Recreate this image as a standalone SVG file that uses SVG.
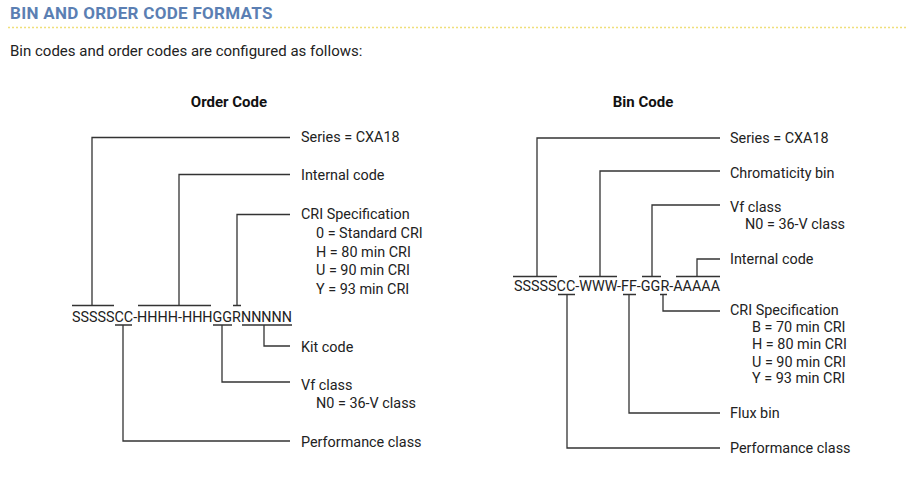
<svg xmlns="http://www.w3.org/2000/svg" width="909" height="481" viewBox="0 0 909 481">
<style>
text{font-family:Roboto,"Liberation Sans",Arial,sans-serif;fill:#222}
.t{font-size:17px;font-weight:bold;fill:#5b7fb3;letter-spacing:0.3px}
.s{font-size:15px}
.h{font-size:15px;font-weight:bold;text-anchor:middle;fill:#111}
.c{font-size:15px}
.l{font-size:14.4px}
.ln{fill:none;stroke:#333;stroke-width:1.3}
</style>
<rect width="909" height="481" fill="#fff"/>
<g id="header">
<text class="t" x="10" y="19">BIN AND ORDER CODE FORMATS</text>
<line x1="8" y1="27.5" x2="906" y2="27.5" stroke="#f0df7a" stroke-width="1.5" stroke-dasharray="2,2"/>
<text class="s" x="10" y="56">Bin codes and order codes are configured as follows:</text>
</g>
<g id="order-code">
<text class="h" x="229" y="107">Order Code</text>
<text class="c" x="72" y="322" textLength="220" lengthAdjust="spacingAndGlyphs">SSSSSCC-HHHH-HHHGGRNNNNN</text>
</g>
<g id="order-labels">
<text class="l" x="301" y="142">Series = CXA18</text>
<text class="l" x="301" y="180">Internal code</text>
<text class="l" x="301" y="219">CRI Specification</text>
<text class="l" x="316" y="238">0 = Standard CRI</text>
<text class="l" x="316" y="257">H = 80 min CRI</text>
<text class="l" x="316" y="275">U = 90 min CRI</text>
<text class="l" x="316" y="294">Y = 93 min CRI</text>
<text class="l" x="301" y="352">Kit code</text>
<text class="l" x="301" y="390">Vf class</text>
<text class="l" x="316" y="408">N0 = 36-V class</text>
<text class="l" x="301" y="447">Performance class</text>
</g>
<g id="bin-code">
<text class="h" x="643" y="107">Bin Code</text>
<text class="c" x="514" y="291" textLength="206" lengthAdjust="spacingAndGlyphs">SSSSSCC-WWW-FF-GGR-AAAAA</text>
</g>
<g id="bin-labels">
<text class="l" x="730" y="143">Series = CXA18</text>
<text class="l" x="730" y="178">Chromaticity bin</text>
<text class="l" x="730" y="212">Vf class</text>
<text class="l" x="745" y="229">N0 = 36-V class</text>
<text class="l" x="730" y="264">Internal code</text>
<text class="l" x="730" y="315">CRI Specification</text>
<text class="l" x="752" y="332">B = 70 min CRI</text>
<text class="l" x="752" y="349">H = 80 min CRI</text>
<text class="l" x="752" y="367">U = 90 min CRI</text>
<text class="l" x="752" y="383">Y = 93 min CRI</text>
<text class="l" x="730" y="418">Flux bin</text>
<text class="l" x="730" y="453">Performance class</text>
</g>
<g id="connectors">
<path class="ln" d="M72,305.5H114M92,305.5V137.5H290"/>
<path class="ln" d="M138,305.5H211M179,305.5V174.5H290"/>
<path class="ln" d="M233,305.5H241M237,305.5V214.5H290"/>
<path class="ln" d="M115,325H132M123,325V441H290"/>
<path class="ln" d="M213,325H232M222,325V382H290"/>
<path class="ln" d="M242,325H292M264,325V346H290"/>
<path class="ln" d="M513,276.5H557M537,276.5V138H720"/>
<path class="ln" d="M579,276.5H617M600,276.5V171H720"/>
<path class="ln" d="M642,276.5H661M652,276.5V205H720"/>
<path class="ln" d="M676,276.5H720M697,276.5V259H720"/>
<path class="ln" d="M558,294.5H575M567,294.5V448H720"/>
<path class="ln" d="M623,294.5H636M629,294.5V413H720"/>
<path class="ln" d="M660,294.5H667M663,294.5V311H720"/>
</g>
</svg>
